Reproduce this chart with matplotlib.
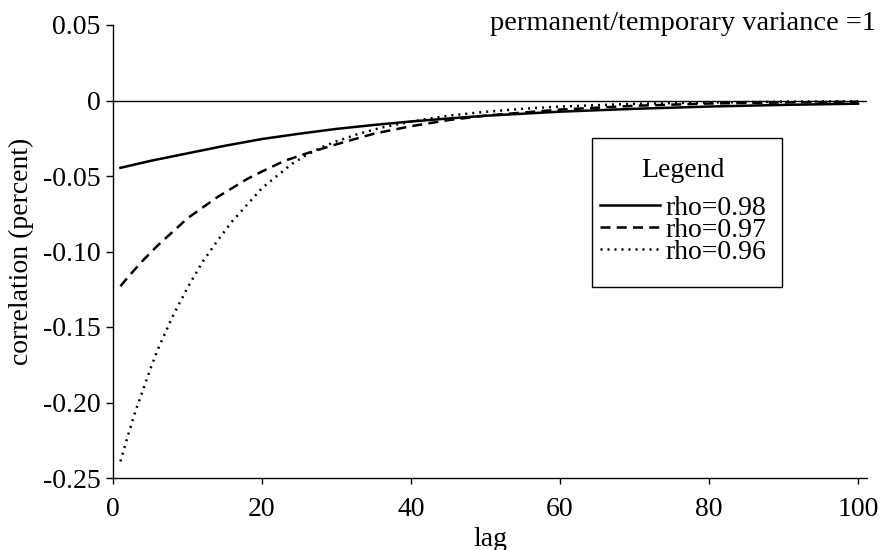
import matplotlib
matplotlib.use("Agg")
import matplotlib.pyplot as plt
from matplotlib.patches import Rectangle

# lags and correlation values
lags_98 = [1, 5, 10, 15, 20, 25, 30, 35, 40, 45, 50, 60, 70, 80, 90, 100]
corr_98 = [-0.0446, -0.0400, -0.0350, -0.0300, -0.0255, -0.0220, -0.0188, -0.0162,
           -0.0139, -0.0119, -0.0101, -0.0074, -0.0055, -0.0040, -0.0029, -0.0021]

lags_97 = [1, 2, 4, 6, 8, 10, 12, 14, 16, 18, 20, 23, 26, 30, 35, 40, 45, 50, 60, 70, 80, 90, 100]
corr_97 = [-0.123, -0.117, -0.106, -0.096, -0.087, -0.078, -0.071, -0.064, -0.058, -0.052,
           -0.047, -0.040, -0.035, -0.029, -0.022, -0.017, -0.013, -0.010, -0.006, -0.0035,
           -0.002, -0.0013, -0.0008]

lags_96 = [1, 2, 3, 4, 5, 6, 8, 10, 12, 14, 16, 18, 20, 22, 24, 26, 28, 30, 33, 36, 40,
           45, 50, 55, 60, 70, 80, 90, 100]
corr_96 = [-0.239, -0.222, -0.206, -0.192, -0.178, -0.165, -0.143, -0.124, -0.107, -0.093,
           -0.080, -0.069, -0.058, -0.050, -0.042, -0.036, -0.031, -0.027, -0.022, -0.018,
           -0.014, -0.010, -0.0075, -0.0055, -0.004, -0.0022, -0.0013, -0.0008, -0.0005]

labels = ["rho=0.98", "rho=0.97", "rho=0.96"]
x_ticks = [0, 20, 40, 60, 80, 100]
y_ticks = [0.05, 0, -0.05, -0.10, -0.15, -0.20, -0.25]
y_tick_labels = ["0.05", "0", "-0.05", "-0.10", "-0.15", "-0.20", "-0.25"]

plt.rcParams['font.family'] = ['Liberation Serif', 'DejaVu Serif']
plt.rcParams['font.size'] = 20

W, H = 883, 550
fig = plt.figure(figsize=(8.83, 5.5), dpi=100)
AX_L, AX_R, AX_T, AX_B = 113, 867, 25, 478
ax = fig.add_axes([AX_L / W, 1 - AX_B / H, (AX_R - AX_L) / W, (AX_B - AX_T) / H])

def ax_coords(px, py):
    return (px - AX_L) / (AX_R - AX_L), (AX_B - py) / (AX_B - AX_T)

ax.axhline(0, color='black', linewidth=1.0)
ax.plot(lags_98, corr_98, color='black', linewidth=1.8, linestyle='-', label=labels[0])
ax.plot(lags_97, corr_97, color='black', linewidth=1.8, linestyle=(0, (4, 2.5)), label=labels[1])
ax.plot(lags_96, corr_96, color='black', linewidth=1.8, linestyle=(0, (0.8, 2.0)), label=labels[2])

ax.set_xlim(0, 101.2)
ax.set_ylim(-0.25, 0.05)
ax.set_xticks(x_ticks)
ax.set_yticks(y_ticks)
ax.set_yticklabels(y_tick_labels)
ax.tick_params(direction='out', length=5, width=1, colors='black', labelsize=20, pad=4)
ax.tick_params(axis='x', length=4, pad=10)

for s in ['top', 'right']:
    ax.spines[s].set_visible(False)
for s in ['left', 'bottom']:
    ax.spines[s].set_linewidth(1.0)

ax.set_xlabel("lag", fontsize=20, labelpad=3)
ax.set_ylabel("correlation (percent)", fontsize=20, labelpad=6)

fig.text(876 / W, 1 - 30 / H, "permanent/temporary variance =1",
         ha='right', va='baseline', fontsize=20.5)

# legend frame
x0, y0 = ax_coords(592, 287)
x1, y1 = ax_coords(782, 138)
ax.add_patch(Rectangle((x0, y0), x1 - x0, y1 - y0, transform=ax.transAxes,
                       facecolor='white', edgecolor='black', linewidth=1.0, zorder=4))

lx, ly = ax_coords(600, 158)
leg = ax.legend(loc='upper left', bbox_to_anchor=(lx, ly),
                title="Legend", frameon=False, fontsize=20, title_fontsize=20,
                handlelength=2.15, handletextpad=0.2, borderpad=0.0,
                labelspacing=-0.12, borderaxespad=0)
leg.set_zorder(5)
leg._legend_box.sep = 9

fig.savefig("out.png", dpi=100)
